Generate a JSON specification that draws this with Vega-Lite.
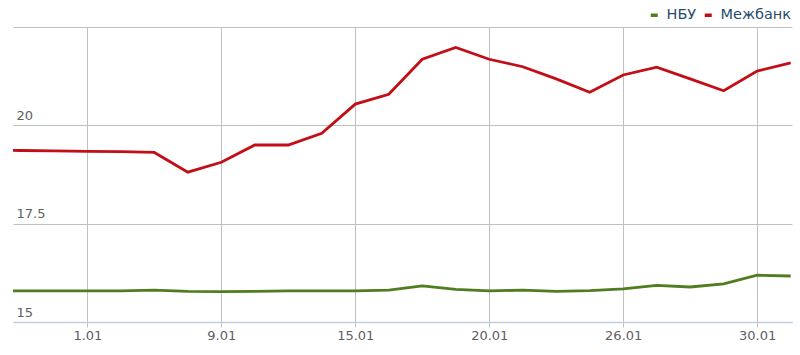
{
  "$schema": "https://vega.github.io/schema/vega-lite/v6.json",
  "width": 779,
  "height": 295,
  "autosize": "none",
  "padding": {"left": 13, "top": 27, "right": 8, "bottom": 33},
  "background": "white",
  "config": {"view": {"stroke": null}, "font": "DejaVu Sans"},
  "data": {
    "values": [
      {"i": -3, "series": "НБУ", "value": 15.79}, {"i": -2, "series": "НБУ", "value": 15.79}, {"i": -1, "series": "НБУ", "value": 15.79}, {"i": 0, "series": "НБУ", "value": 15.79}, {"i": 1, "series": "НБУ", "value": 15.79},
      {"i": 2, "series": "НБУ", "value": 15.81}, {"i": 3, "series": "НБУ", "value": 15.78}, {"i": 4, "series": "НБУ", "value": 15.77}, {"i": 5, "series": "НБУ", "value": 15.78}, {"i": 6, "series": "НБУ", "value": 15.79},
      {"i": 7, "series": "НБУ", "value": 15.79}, {"i": 8, "series": "НБУ", "value": 15.79}, {"i": 9, "series": "НБУ", "value": 15.81}, {"i": 10, "series": "НБУ", "value": 15.92}, {"i": 11, "series": "НБУ", "value": 15.83},
      {"i": 12, "series": "НБУ", "value": 15.79}, {"i": 13, "series": "НБУ", "value": 15.81}, {"i": 14, "series": "НБУ", "value": 15.78}, {"i": 15, "series": "НБУ", "value": 15.80}, {"i": 16, "series": "НБУ", "value": 15.84},
      {"i": 17, "series": "НБУ", "value": 15.93}, {"i": 18, "series": "НБУ", "value": 15.89}, {"i": 19, "series": "НБУ", "value": 15.97}, {"i": 20, "series": "НБУ", "value": 16.19}, {"i": 21, "series": "НБУ", "value": 16.17},
      {"i": -3, "series": "Межбанк", "value": 19.38}, {"i": -2, "series": "Межбанк", "value": 19.36}, {"i": -1, "series": "Межбанк", "value": 19.35}, {"i": 0, "series": "Межбанк", "value": 19.34}, {"i": 1, "series": "Межбанк", "value": 19.33},
      {"i": 2, "series": "Межбанк", "value": 19.31}, {"i": 3, "series": "Межбанк", "value": 18.81}, {"i": 4, "series": "Межбанк", "value": 19.06}, {"i": 5, "series": "Межбанк", "value": 19.50}, {"i": 6, "series": "Межбанк", "value": 19.50},
      {"i": 7, "series": "Межбанк", "value": 19.80}, {"i": 8, "series": "Межбанк", "value": 20.54}, {"i": 9, "series": "Межбанк", "value": 20.79}, {"i": 10, "series": "Межбанк", "value": 21.68}, {"i": 11, "series": "Межбанк", "value": 21.98},
      {"i": 12, "series": "Межбанк", "value": 21.68}, {"i": 13, "series": "Межбанк", "value": 21.49}, {"i": 14, "series": "Межбанк", "value": 21.18}, {"i": 15, "series": "Межбанк", "value": 20.84}, {"i": 16, "series": "Межбанк", "value": 21.28},
      {"i": 17, "series": "Межбанк", "value": 21.48}, {"i": 18, "series": "Межбанк", "value": 21.18}, {"i": 19, "series": "Межбанк", "value": 20.88}, {"i": 20, "series": "Межбанк", "value": 21.38}, {"i": 21, "series": "Межбанк", "value": 21.59}
    ]
  },
  "mark": {"type": "line", "strokeWidth": 2.8, "clip": true, "interpolate": "linear"},
  "encoding": {
    "x": {
      "field": "i", "type": "quantitative",
      "scale": {"domain": [-2.22, 21.04], "nice": false, "zero": false},
      "axis": {
        "title": null,
        "values": [0, 4, 8, 12, 16, 20],
        "labelExpr": "['1.01','9.01','15.01','20.01','26.01','30.01'][datum.value / 4]",
        "grid": true, "gridColor": "#c0c0c0", "gridWidth": 1,
        "domainColor": "#c0d0e0", "domainWidth": 1.5,
        "ticks": true, "tickColor": "#c0c0c0", "tickSize": 5,
        "labelFont": "DejaVu Sans", "labelFontSize": 13, "labelColor": "#606060",
        "labelPadding": 2, "labelFlush": false, "labelOverlap": false
      }
    },
    "y": {
      "field": "value", "type": "quantitative",
      "scale": {"domain": [15, 22.5], "nice": false, "zero": false},
      "axis": {
        "title": null,
        "values": [15, 17.5, 20, 22.5],
        "labelExpr": "datum.value == 22.5 ? '' : format(datum.value, '~g')",
        "grid": true, "gridColor": "#c0c0c0", "gridWidth": 1,
        "domain": false, "ticks": false, "tickSize": 0,
        "labelAlign": "left", "labelBaseline": "bottom", "labelPadding": -3, "labelOffset": -3,
        "labelFont": "DejaVu Sans", "labelFontSize": 13, "labelColor": "#606060",
        "labelFlush": false, "labelOverlap": false
      }
    },
    "color": {
      "field": "series", "type": "nominal",
      "scale": {"domain": ["НБУ", "Межбанк"], "range": ["#4f7d1f", "#c20e16"]},
      "legend": {
        "title": null, "orient": "none", "direction": "horizontal",
        "legendX": 634, "legendY": -19, "padding": 0, "gridAlign": "none",
        "symbolType": "stroke", "symbolSize": 49, "symbolStrokeWidth": 3.5,
        "labelFont": "DejaVu Sans", "labelFontSize": 14.5, "labelColor": "#274b6d",
        "labelOffset": 5, "columnPadding": 0
      }
    }
  }
}
